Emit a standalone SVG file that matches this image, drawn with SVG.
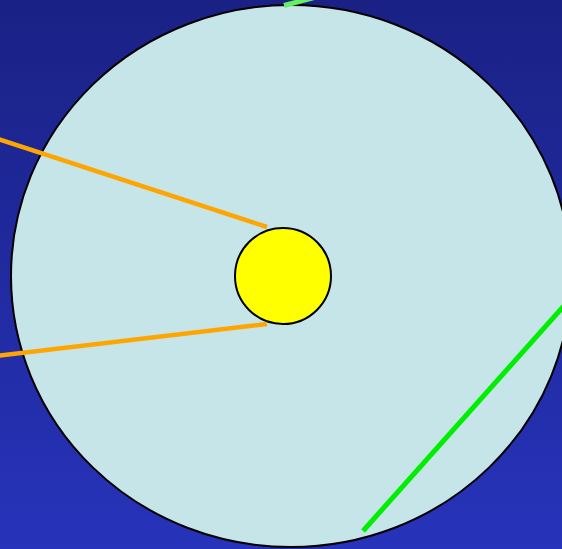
<svg xmlns="http://www.w3.org/2000/svg" width="562" height="549" viewBox="0 0 562 549">
<defs>
<linearGradient id="bg" x1="0" y1="0" x2="0" y2="1">
<stop offset="0" stop-color="#1a2185"/>
<stop offset="1" stop-color="#2733ba"/>
</linearGradient>
<style>
.orange{stroke:#ffa500;stroke-width:4.5;fill:none}
.green{stroke:#00ee00;stroke-width:5;fill:none}
</style>
</defs>
<rect width="562" height="549" fill="url(#bg)"/>
<g id="outer">
<ellipse cx="291" cy="276" rx="280" ry="271" fill="#c5e5e8" stroke="#000" stroke-width="2"/>
</g>
<g id="sun">
<circle cx="283" cy="276" r="48" fill="#ffff00" stroke="#000" stroke-width="2"/>
</g>
<g id="connectors">
<line class="orange" x1="-5" y1="138" x2="267" y2="227"/>
<line class="orange" x1="-5" y1="356" x2="267" y2="324"/>
<line class="green" x1="363" y1="531" x2="570" y2="299"/>
<line x1="284" y1="5.5" x2="320" y2="-4" stroke="#66ee66" stroke-width="5"/>
</g>
</svg>
